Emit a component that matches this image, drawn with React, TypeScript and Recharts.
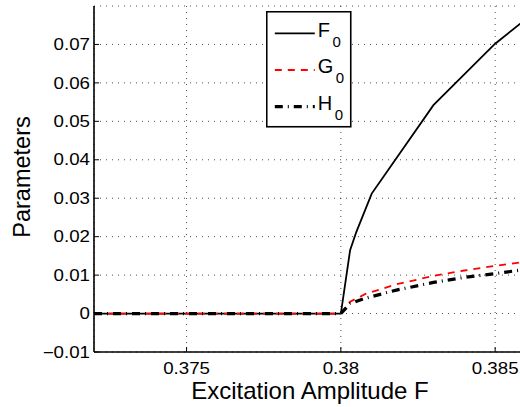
import React from 'react';
import { LineChart, Line, XAxis, YAxis, CartesianGrid, Legend } from 'recharts';

const FONT = '"Liberation Sans", Arial, Helvetica, sans-serif';

// Axis ticks and labels
const xTicks = [0.375, 0.38, 0.385];
const xTickLabels = ['0.375', '0.38', '0.385'];
const yTicks = [-0.01, 0, 0.01, 0.02, 0.03, 0.04, 0.05, 0.06, 0.07];
const yTickLabels = ['\u22120.01', '0', '0.01', '0.02', '0.03', '0.04', '0.05', '0.06', '0.07'];
const xDomain = [0.372, 0.386];
const yDomain = [-0.01, 0.08];

const xLabel = 'Excitation Amplitude F';
const yLabel = 'Parameters';

// Series F0
const f0X = [0.372, 0.38, 0.3803, 0.3805, 0.381, 0.383, 0.385, 0.386];
const f0Y = [0, 0, 0.0165, 0.0212, 0.0312, 0.0542, 0.0702, 0.0766];

// Series G0
const g0X = [0.372, 0.38, 0.3803, 0.3808, 0.3818, 0.383, 0.384, 0.385, 0.386];
const g0Y = [0, 0, 0.0031, 0.0051, 0.0076, 0.0098, 0.0112, 0.0124, 0.0135];

// Series H0
const h0X = [0.372, 0.38, 0.3803, 0.3808, 0.3818, 0.383, 0.384, 0.385, 0.386];
const h0Y = [0, 0, 0.0026, 0.004, 0.0061, 0.0081, 0.0094, 0.0104, 0.0115];

const toPoints = (xs: number[], ys: number[]) => xs.map((x, i) => ({ x, y: ys[i] }));

const series = [
  { key: 'F0', name: 'F', sub: '0', data: toPoints(f0X, f0Y), color: '#000000', width: 1.8, dash: undefined as string | undefined },
  { key: 'G0', name: 'G', sub: '0', data: toPoints(g0X, g0Y), color: '#ff0000', width: 1.8, dash: '7 6' },
  { key: 'H0', name: 'H', sub: '0', data: toPoints(h0X, h0Y), color: '#000000', width: 3.2, dash: '8 5 1 5' },
];

const XTick = (props: any) => {
  const { x, y, payload } = props;
  const i = xTicks.indexOf(payload.value);
  return (
    <text
      transform={`translate(${x},${y}) scale(1.17,1)`}
      textAnchor="middle"
      dy="0.71em"
      fontSize={16}
      fontFamily={FONT}
      fill="#000"
    >
      {i >= 0 ? xTickLabels[i] : String(payload.value)}
    </text>
  );
};

const YTick = (props: any) => {
  const { x, y, payload } = props;
  const i = yTicks.indexOf(payload.value);
  return (
    <text
      transform={`translate(${x},${y}) scale(1.17,1)`}
      textAnchor="end"
      dy="0.355em"
      fontSize={16}
      fontFamily={FONT}
      fill="#000"
    >
      {i >= 0 ? yTickLabels[i] : String(payload.value)}
    </text>
  );
};

const XLabel = (props: any) => {
  const vb = props.viewBox || { x: 94, y: 352, width: 432, height: 55 };
  return (
    <text
      x={vb.x + vb.width / 2}
      y={vb.y + 46.5}
      textAnchor="middle"
      fontSize={24}
      fontFamily={FONT}
      fill="#000"
    >
      {xLabel}
    </text>
  );
};

const YLabel = (props: any) => {
  const vb = props.viewBox || { x: 0, y: 6, width: 94, height: 346 };
  const cx = vb.x + 30;
  const cy = vb.y + vb.height / 2 - 2;
  return (
    <text
      x={cx}
      y={cy}
      transform={`rotate(-90, ${cx}, ${cy})`}
      textAnchor="middle"
      fontSize={23.5}
      fontFamily={FONT}
      fill="#000"
    >
      {yLabel}
    </text>
  );
};

const LegendBox = () => (
  <svg width={86} height={117} style={{ display: 'block' }}>
    <rect x={0.75} y={0.75} width={84} height={115} fill="#ffffff" stroke="#000" strokeWidth={1.6} />
    {series.map((s, i) => {
      const cy = 22.3 + i * 36.7;
      return (
        <g key={s.key}>
          <line x1={8.8} x2={48.8} y1={cy} y2={cy} stroke={s.color} strokeWidth={s.width} strokeDasharray={s.dash} />
          <text x={51.8} y={cy + 3.2} fontSize={20} fontFamily={FONT} fill="#000">
            {s.name}
            <tspan dx={2.5} dy={10} fontSize={15}>{s.sub}</tspan>
          </text>
        </g>
      );
    })}
  </svg>
);

export default function App() {
  return (
    <div style={{ position: 'fixed', left: 0, top: 0, width: 520, height: 407, overflow: 'hidden', background: '#fff' }}>
      <LineChart width={526} height={407} margin={{ top: 6, right: 0, left: 0, bottom: 0 }}>
        <CartesianGrid stroke="#000" strokeOpacity={0.7} strokeDasharray="1 5" strokeWidth={1} />
        <XAxis
          dataKey="x"
          type="number"
          domain={xDomain}
          ticks={xTicks}
          allowDataOverflow
          height={55}
          tickSize={-5}
          tickMargin={16}
          tick={<XTick />}
          axisLine={{ stroke: '#000', strokeWidth: 1.6 }}
          tickLine={{ stroke: '#000', strokeWidth: 1 }}
          label={<XLabel />}
          interval={0}
        />
        <XAxis
          xAxisId="top"
          orientation="top"
          dataKey="x"
          type="number"
          domain={xDomain}
          ticks={xTicks}
          allowDataOverflow
          height={0}
          tickSize={-5}
          tick={false}
          axisLine={{ stroke: '#000', strokeWidth: 1.6 }}
          tickLine={{ stroke: '#000', strokeWidth: 1 }}
        />
        <YAxis
          type="number"
          domain={yDomain}
          ticks={yTicks}
          allowDataOverflow
          width={94}
          tickSize={-5}
          tickMargin={9}
          tick={<YTick />}
          axisLine={{ stroke: '#000', strokeWidth: 1.6 }}
          tickLine={{ stroke: '#000', strokeWidth: 1 }}
          label={<YLabel />}
          interval={0}
        />
        <Legend
          layout="horizontal"
          verticalAlign="middle"
          align="center"
          content={() => <LegendBox />}
          wrapperStyle={{ position: 'absolute', left: 266.3, top: 11, width: 86, height: 117 }}
        />
        {series.map((s) => (
          <Line
            key={s.key}
            data={s.data}
            dataKey="y"
            name={s.key}
            type="linear"
            stroke={s.color}
            strokeWidth={s.width}
            strokeDasharray={s.dash}
            dot={false}
            activeDot={false}
            isAnimationActive={false}
            legendType="none"
          />
        ))}
      </LineChart>
    </div>
  );
}
